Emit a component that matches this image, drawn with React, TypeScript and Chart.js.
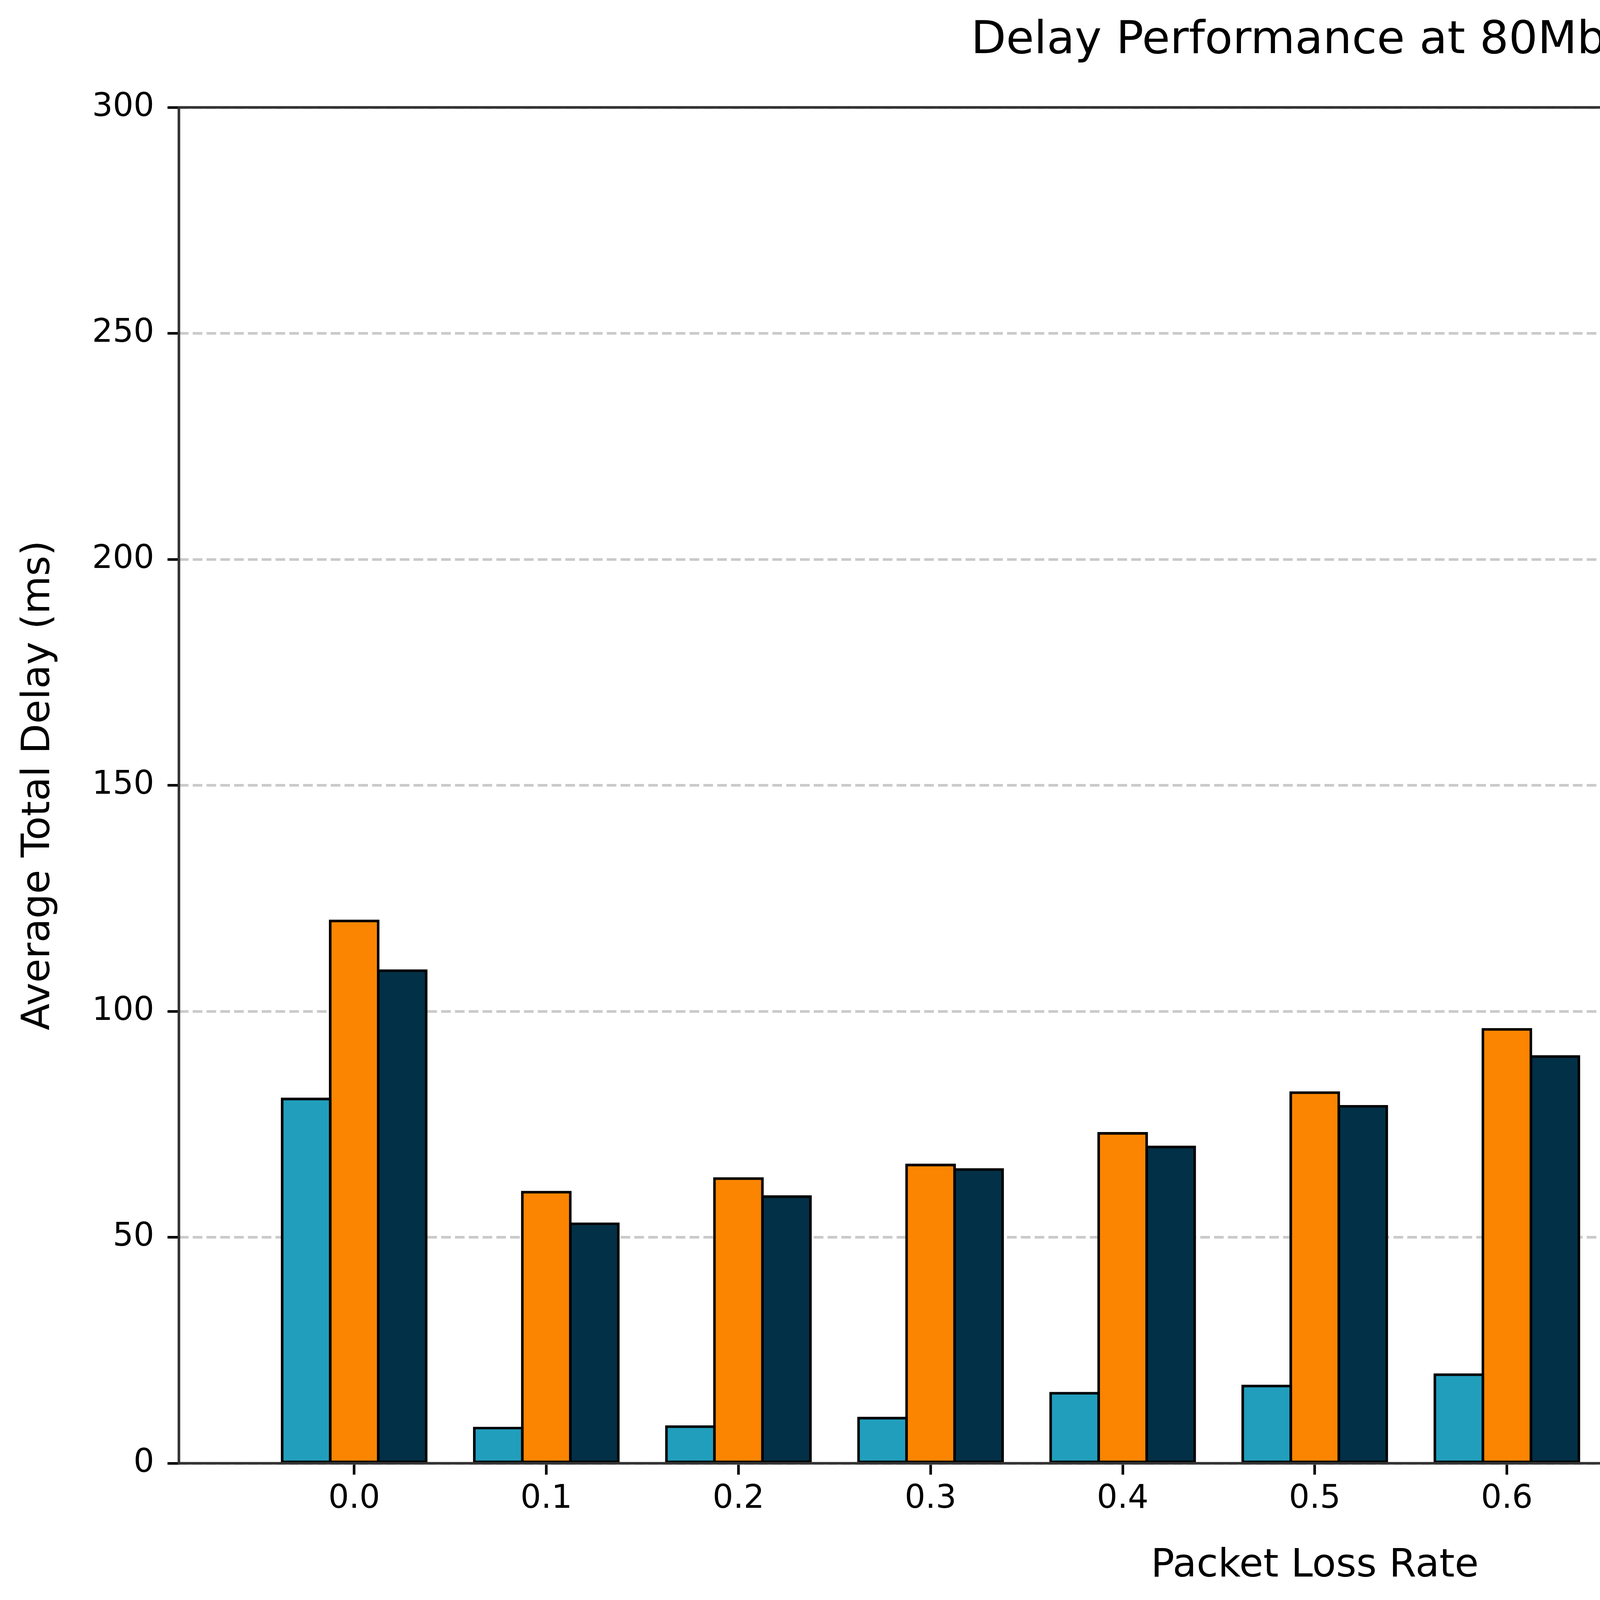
import React, { useEffect, useRef } from 'react';
import { Chart, registerables } from 'chart.js';

Chart.register(...registerables);

// ---- data ----
const categories = ['0.0', '0.1', '0.2', '0.3', '0.4', '0.5', '0.6', '0.7', '0.8', '0.9', '1.0'];
const indsValues = [80.6, 7.8, 8.1, 10.0, 15.5, 17.1, 19.6, 23.3, 27.7, 30.4, 36.3];
const dashPcValues = [120, 60, 63, 66, 73, 82, 96, 109, 123, 120, 131];
const pccDashValues = [109, 53, 59, 65, 70, 79, 90, 100, 109, 113, 120];
const yTicks = [0, 50, 100, 150, 200, 250, 300];
const seriesNames = ['INDS', 'DASH-PC', 'PCC-DASH'];
const seriesColors = ['#219ebc', '#fb8500', '#023047'];
const seriesValues = [indsValues, dashPcValues, pccDashValues];

// ---- layout / style ----
const W = 7130;
const H = 4126;
const PT = 600 / 72;
const LW = 0.8 * PT;
const FAMILY = '"DejaVu Sans", "Liberation Sans", sans-serif';

const spinePlugin = {
  id: 'spines',
  afterDatasetsDraw(chart: any) {
    const { ctx, chartArea: a } = chart;
    ctx.save();
    ctx.strokeStyle = '#333333';
    ctx.lineWidth = LW;
    ctx.strokeRect(a.left, a.top, a.right - a.left, a.bottom - a.top);
    ctx.restore();
  },
};

export default function App() {
  const ref = useRef<HTMLCanvasElement>(null);

  useEffect(() => {
    if (!ref.current) return;
    const chart = new Chart(ref.current, {
      type: 'bar',
      data: {
        datasets: seriesNames.map((name, k) => ({
          label: name,
          data: seriesValues[k].map((v, i) => ({ x: i, y: v })),
          backgroundColor: seriesColors[k],
          borderColor: '#000000',
          borderWidth: LW,
          borderSkipped: false,
          inflateAmount: LW / 2,
          categoryPercentage: 0.75,
          barPercentage: 1,
          xAxisID: 'x',
          yAxisID: 'y',
        })),
      } as any,
      options: {
        responsive: false,
        animation: false,
        devicePixelRatio: 1,
        layout: { padding: { left: 0, right: 129.9, top: 0, bottom: 0 } },
        plugins: {
          title: {
            display: true,
            text: 'Delay Performance at 80Mbps',
            color: '#000',
            fullSize: false,
            font: { family: FAMILY, size: 14 * PT, weight: 'normal', lineHeight: 1 },
            padding: { top: 47.5, bottom: 110.8 },
          },
          legend: {
            display: true,
            position: 'right',
            align: 'start',
            fullSize: true,
            title: {
              display: true,
              text: '',
              font: { family: FAMILY, size: 4, lineHeight: 1 },
              padding: { top: 300, bottom: 0 },
            },
            labels: {
              boxWidth: 2.0 * 10 * PT,
              boxHeight: 0.7 * 10 * PT,
              padding: 39.2,
              color: '#000',
              font: { family: FAMILY, size: 10 * PT, lineHeight: 1.2 },
            },
          },
          tooltip: { enabled: false },
        },
        scales: {
          x: {
            type: 'linear',
            min: -0.9125,
            max: 10.9125,
            offset: false,
            afterBuildTicks: (axis: any) => {
              axis.ticks = categories.map((_, i) => ({ value: i }));
            },
            afterFit: (s: any) => {
              s.height = 380;
            },
            ticks: {
              autoSkip: false,
              maxRotation: 0,
              minRotation: 0,
              padding: 13,
              color: '#000',
              font: { family: FAMILY, size: 10 * PT, lineHeight: 1.2 },
              callback: (v: any) => categories[Math.round(Number(v))] ?? '',
            },
            grid: {
              display: true,
              offset: false,
              drawOnChartArea: false,
              drawTicks: true,
              tickLength: 3.5 * PT,
              tickWidth: LW,
              tickColor: '#000',
              color: '#000',
            },
            border: { display: false },
            title: {
              display: true,
              text: 'Packet Loss Rate',
              color: '#000',
              font: { family: FAMILY, size: 12 * PT, lineHeight: 1 },
              padding: { top: 0, bottom: 66 },
            },
          },
          y: {
            type: 'linear',
            position: 'left',
            min: 0,
            max: 300,
            afterBuildTicks: (axis: any) => {
              axis.ticks = yTicks.map((v) => ({ value: v }));
            },
            afterFit: (s: any) => {
              s.width = 458;
            },
            ticks: {
              padding: 34,
              color: '#000',
              font: { family: FAMILY, size: 10 * PT, lineHeight: 1.2 },
              callback: (v: any) => String(v),
            },
            grid: {
              display: true,
              drawOnChartArea: true,
              drawTicks: true,
              tickLength: 3.5 * PT,
              tickWidth: LW,
              tickColor: '#000',
              color: '#cacaca',
              lineWidth: LW,
            },
            border: { display: false, dash: [3.7 * LW, 1.6 * LW] },
            title: {
              display: true,
              text: 'Average Total Delay (ms)',
              color: '#000',
              font: { family: FAMILY, size: 12 * PT, lineHeight: 1 },
              padding: { top: 50, bottom: 0 },
            },
          },
          y2: {
            type: 'linear',
            position: 'right',
            display: true,
            ticks: { display: false },
            grid: { display: false, drawTicks: false },
            border: { display: false },
            afterFit: (s: any) => {
              s.width = 37;
            },
          },
        },
      } as any,
      plugins: [spinePlugin],
    });
    return () => chart.destroy();
  }, []);

  return (
    <div style={{ position: 'absolute', left: 0, top: 0, width: W, height: H, background: '#ffffff' }}>
      <canvas ref={ref} width={W} height={H} style={{ width: W, height: H, display: 'block' }} />
    </div>
  );
}
